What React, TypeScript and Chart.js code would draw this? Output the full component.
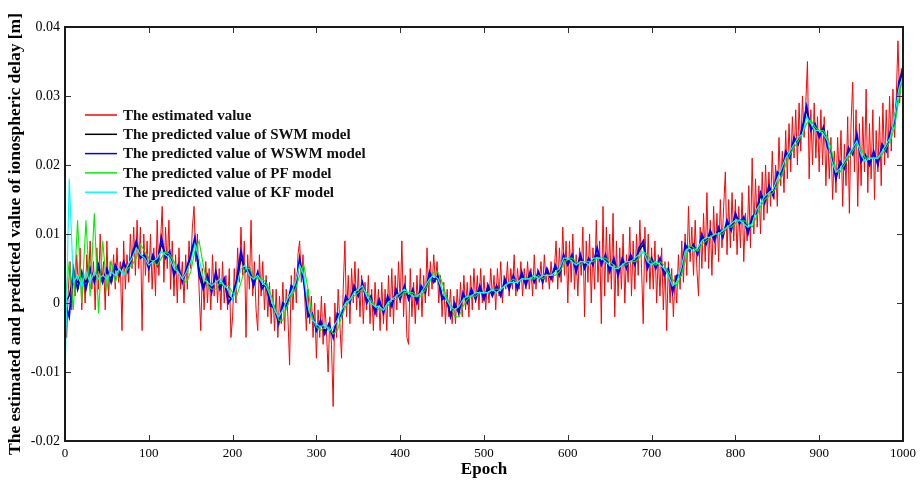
import React, { useEffect, useRef } from "react";
import { Chart, registerables } from "chart.js";

Chart.register(...registerables);

// Epochs (x positions): estimated value every 2nd epoch, model predictions every 5th epoch
const estimatedEpochs: number[] = Array.from({ length: 501 }, (_, i) => i * 2);
const modelEpochs: number[] = Array.from({ length: 201 }, (_, i) => i * 5);

// Values in millimetres (converted to metres for plotting)
const estimatedMm: number[] = [
  0, -5, 2, 6, -1, 4, 1, 7, 2, 8, -1, 5, 0, 7, 3, 9, 2, 6, -1, 8, 2, 10, 3, 6, -1,
  9, 1, 6, 3, 7, 2, 8, 3, 6, -4, 9, 2, 7, 3, 10, 5, 11, 4, 12, 5, 11, -4, 10, 4, 9,
  3, 10, 2, 8, 1, 12, 4, 9, 14, 3, 11, 5, 12, 2, 9, 1, 7, 0, 8, 2, 6, 0, 7, 2, 9,
  5, 11, 14, 6, 10, 2, -4, 5, -1, 6, 0, 5, -1, 7, 1, 6, 0, 5, -1, 6, 0, 4, -1, 5, -5,
  -2, 5, 0, 8, 3, 11, 4, 9, -5, 7, 2, 12, 1, 6, -1, -4, 7, 1, 6, -1, 4, -2, 3, -3, 2,
  -4, 2, -5, 1, -3, 3, -4, 2, -2, -9, 4, -1, 5, 0, 7, 9, 3, 7, 1, -4, 2, -3, 1, -5, 0,
  -8, -1, -5, 1, -6, 0, -4, -10, -2, -6, -15, 0, -5, 2, -3, -8, 2, 9, -2, 4, -3, 5, 0, 6, -1,
  5, -2, 4, -3, 3, -1, 4, -3, 2, -4, 3, -2, 2, -4, 3, -3, 2, -4, 4, -2, 5, -3, 4, -1, 6,
  0, 9, -2, 4, -5, -6, 5, -2, 3, -3, 4, -1, 5, -2, 4, 0, 8, 1, 6, 2, 7, 3, 6, 0, 4,
  -2, 3, -3, 2, -2, 2, -3, 1, -3, 2, -2, 3, -2, 4, -1, 3, -2, 4, -1, 5, 0, 4, -1, 5, 0,
  4, -1, 3, 0, 5, 1, 4, -1, 5, 1, 6, 0, 4, 2, 6, 1, 5, 2, 7, 1, 5, 2, 6, 1, 5,
  2, 6, 2, 5, 1, 7, 2, 5, 3, 6, 2, 7, 3, 5, 2, 6, 3, 5, 9, 2, 8, 3, 11, 4, 9,
  0, 9, 3, 10, 2, 7, 1, 8, 4, 11, -2, 9, 3, 10, 0, 8, 2, 12, 3, 9, -3, 14, 1, 11, 3,
  10, 2, 13, -2, 9, 1, 8, 2, 10, 0, 7, 3, 11, 1, 9, 2, 10, 4, 12, 5, -3, 11, 3, 10, 2,
  8, 2, 9, 0, 7, 1, 8, -1, 6, -4, 6, 0, 5, -2, 4, 0, 7, 2, 9, 3, 10, 4, 14, 6, 11,
  4, 12, 5, 1, 11, 5, 13, 6, 16, 5, 12, 4, 14, 7, 13, 6, 15, 8, 14, 19, 7, 15, 8, 16, 9,
  15, 7, 14, 8, 16, 6, 13, 9, 17, 8, 21, 10, 18, 11, 17, 10, 19, 12, 20, 13, 19, 14, 22, 15, 20,
  14, 24, 17, 22, 16, 25, 18, 26, 19, 27, 21, 28, 20, 29, 22, 30, 24, 29, 35, 18, 28, 20, 29, 21, 27,
  19, 28, 20, 27, 17, 25, 18, 24, 15, 22, 16, 24, 18, 25, 14, 23, 17, 27, 13, 26, 32, 19, 28, 14, 26,
  17, 27, 19, 31, 16, 26, 18, 28, 15, 25, 19, 27, 17, 29, 20, 28, 21, 30, 22, 31, 24, 30, 38, 29, 34,
  33,
];

const swmMm: number[] = [
  0, 1, 4, 3, 4, 3, 4.5, 3.5, 5, 3.5,
  4.5, 3.5, 5, 4.5, 5.5, 5, 6.5, 8.5, 7, 6.5,
  5.5, 6.5, 6, 8.5, 7, 7, 4.5, 5, 3.5, 4.5,
  6.5, 9, 5, 2.5, 3.5, 2, 4, 2.5, 3, 1,
  0.5, 3, 6.5, 5, 4.5, 3, 4, 2.5, 2.5, 0,
  -1, -2.5, -0.5, 0, 2, 2.5, 6, 3.5, -1.5, -2,
  -3.5, -3, -4, -3.5, -4.5, -2, -1.5, 0.5, 0.5, 2,
  1.5, 2.5, 0.5, 0.5, -1, 0, -1, 0.5, 0, 1.5,
  1, 2, 1, 1.5, 0.5, 2, 2, 4, 3.5, 3.5,
  1, 0.5, -1.5, -0.5, -1, 1, 0.5, 1.5, 1, 2,
  1, 2, 1.5, 2, 1.5, 3, 2.5, 3.5, 2.5, 4,
  3, 4, 3.5, 4, 3.5, 4.5, 3.5, 5, 4.5, 6.5,
  6, 6.5, 5, 6.5, 5.5, 6, 6, 7, 6, 6.5,
  5, 6, 4.5, 6, 5.5, 6.5, 6, 7.5, 8.5, 5.5,
  6, 5.5, 6, 4.5, 4.5, 2, 3.5, 4.5, 8, 8,
  8, 7.5, 9.5, 9, 10, 9.5, 10.5, 10, 11.5, 11,
  12.5, 12, 12, 10.5, 12, 13.5, 15.5, 15, 16.5, 16,
  18.5, 19, 21.5, 21.5, 23.5, 23.5, 25, 28, 25.5, 25.5,
  24.5, 25, 23, 21, 18.5, 20, 20, 22, 22, 24,
  21, 21, 20.5, 21.5, 20.5, 22.5, 22.5, 24.5, 26.5, 31.5,
  33.5,
];

const wswmMm: number[] = [
  0, -2, 5, 2, 4.5, 2, 5, 3, 5.5, 3,
  5, 3, 5.5, 4, 6, 4.5, 7, 9, 6.5, 7,
  5, 7, 5.5, 9.5, 6.5, 7.5, 4, 5.5, 3, 5,
  7, 9.5, 4, 2, 4, 1.5, 4.5, 2, 3.5, 0,
  1, 3.5, 7.5, 4.5, 5, 2.5, 4.5, 2, 3, -0.5,
  -0.5, -3, 0, -0.5, 2.5, 2, 6.5, 3, -2, -1.5,
  -4, -2.5, -4.5, -3, -5, -1.5, -2, 1, 0, 2.5,
  1, 3, 0, 1, -1.5, 0.5, -1.5, 1, -0.5, 2,
  0.5, 2.5, 0.5, 2, 0, 2.5, 1.5, 4.5, 3, 4,
  0.5, 1, -2, 0, -1.5, 1.5, 0, 2, 0.5, 2.5,
  0.5, 2.5, 1, 2.5, 1, 3.5, 2, 4, 2, 4.5,
  2.5, 4.5, 3, 4.5, 3, 5, 3.5, 5.5, 4, 7,
  5.5, 7, 4.5, 7, 5, 6.5, 5.5, 8, 5.5, 7,
  4.5, 6.5, 4, 6.5, 5, 7, 5.5, 8, 9, 5,
  6.5, 5, 6.5, 4, 5, 1.5, 4, 4, 8.5, 7.5,
  8.5, 7, 10, 8.5, 10.5, 9, 11, 9.5, 12, 10.5,
  13, 11.5, 12.5, 10, 12.5, 13, 16, 14.5, 17, 15.5,
  19, 18.5, 22, 21, 24, 23, 25.5, 28.5, 25, 26,
  24, 25.5, 22.5, 21.5, 18, 20.5, 19.5, 22.5, 21.5, 24.5,
  20.5, 21.5, 20, 22, 20, 23, 22, 25, 26, 32,
  34,
];

const pfMm: number[] = [
  0, 6, -1, 12, 0, 12, 1, 13, -1.5, 9,
  2, 6, 3, 5, 4, 5, 5.5, 6.5, 8.5, 7.5,
  6.5, 6, 5.5, 6.5, 7.5, 7, 6, 4.5, 3.5, 3,
  4.5, 7.5, 9, 5.5, 2.5, 2, 2, 3, 2.5, 2.5,
  1.5, 1, 3, 5, 5, 4, 3.5, 3.5, 3, 1.5,
  -0.5, -2.5, -2.5, -0.5, 1, 2, 4, 5.5, 2, -2,
  -3.5, -4, -3.5, -3.5, -4.5, -4, -2, -0.5, 0.5, 1,
  1.5, 2, 1.5, 0.5, -0.5, -1, -1, -0.5, 0.5, 0.5,
  1, 1.5, 1.5, 1.5, 1, 1, 2, 3, 4.5, 4.5,
  3, 1, -0.5, -2, -2, -0.5, 0.5, 1, 1, 1.5,
  1.5, 1.5, 2, 2, 2, 2.5, 3, 3.5, 3, 3.5,
  3.5, 3.5, 3.5, 4, 3.5, 4, 4, 4, 4.5, 5.5,
  6.5, 6.5, 6, 5.5, 6, 6, 6, 6.5, 6.5, 6.5,
  6, 5.5, 5, 5.5, 5.5, 6, 6, 6.5, 7.5, 7,
  6, 5.5, 6, 5.5, 4.5, 3.5, 2.5, 4, 6, 8.5,
  8, 7.5, 8.5, 9, 9.5, 10, 10, 10, 11, 11,
  11.5, 12, 12, 11.5, 11, 12.5, 14, 15, 15.5, 16,
  17, 18.5, 20, 21.5, 22.5, 23.5, 24.5, 26, 26.5, 25.5,
  25, 25, 24, 22, 19, 19, 20, 21, 22, 23,
  22.5, 21, 21, 21, 21, 21.5, 22.5, 23.5, 25.5, 29.5,
  33,
];

const kfMm: number[] = [
  -11, 18, 3, 4, 2.5, 4.5, 3, 4.5, 3.5, 4,
  3.5, 4.5, 4, 5, 4, 5.5, 6.5, 8, 7, 6.5,
  5.5, 6, 6.5, 7.5, 7, 6.5, 5, 4.5, 3.5, 4.5,
  6, 8.5, 6.5, 3.5, 3, 2.5, 3, 3.5, 2.5, 2,
  0.5, 2.5, 5, 5.5, 4, 3.5, 4, 3, 2.5, 1,
  -1, -2, -1, 0.5, 1.5, 3, 5.5, 4, -0.5, -2.5,
  -3, -3.5, -3, -4, -3.5, -2.5, -1, 0, 0.5, 1.5,
  2, 2.5, 1, 0, -0.5, -0.5, -1, 0, 0.5, 1,
  1.5, 2, 1.5, 1, 1, 1.5, 2.5, 3.5, 4, 3.5,
  2, 0.5, -0.5, -1, -0.5, 0.5, 1, 1, 1.5, 1.5,
  1.5, 1.5, 2, 1.5, 2, 2.5, 3, 3, 3, 3.5,
  3.5, 3.5, 4, 3.5, 4, 4, 4, 4.5, 5, 6.5,
  6.5, 6, 5.5, 6, 6, 5.5, 6.5, 6.5, 6.5, 6,
  5.5, 5, 5, 5.5, 6, 6, 6.5, 7, 7.5, 6,
  5.5, 6, 5.5, 5, 4, 2.5, 3, 5, 7.5, 8,
  7.5, 8, 9, 9.5, 9.5, 10, 10, 10.5, 11, 11.5,
  12, 12, 11.5, 11, 11.5, 13.5, 14.5, 15.5, 16, 16.5,
  18, 19.5, 21, 22, 23, 24, 24.5, 27, 26, 25,
  25, 24.5, 23.5, 20.5, 19, 19.5, 20.5, 21.5, 22.5, 23.5,
  21.5, 20.5, 21, 21, 21, 22, 23, 24, 27, 31,
  33,
];

const seriesLabels: string[] = [
  "The estimated value",
  "The predicted value of SWM model",
  "The predicted value of WSWM model",
  "The predicted value of PF model",
  "The predicted value of KF model",
];
const seriesColors: string[] = ["#ff0000", "#000000", "#0000ff", "#00ee00", "#00ffff"];

const yTicks: number[] = [-0.02, -0.01, 0, 0.01, 0.02, 0.03, 0.04];
const xTicks: number[] = [0, 100, 200, 300, 400, 500, 600, 700, 800, 900, 1000];

const toPoints = (xs: number[], mm: number[]) => mm.map((v, i) => ({ x: xs[i], y: v / 1000 }));

const SERIF = '"Liberation Serif", "Times New Roman", serif';

const framePlugin = {
  id: "frameAndLegend",
  afterDatasetsDraw(chart: any) {
    const { ctx, chartArea: a, scales } = chart;
    const x = scales.x;
    const y = scales.y;
    ctx.save();
    ctx.strokeStyle = "#333";
    ctx.lineWidth = 1;
    ctx.beginPath();
    xTicks.forEach((t) => {
      const px = Math.round(x.getPixelForValue(t)) + 0.5;
      ctx.moveTo(px, a.bottom);
      ctx.lineTo(px, a.bottom - 6);
      ctx.moveTo(px, a.top);
      ctx.lineTo(px, a.top + 6);
    });
    yTicks.forEach((t) => {
      const py = Math.round(y.getPixelForValue(t)) + 0.5;
      ctx.moveTo(a.left, py);
      ctx.lineTo(a.left + 6, py);
      ctx.moveTo(a.right, py);
      ctx.lineTo(a.right - 6, py);
    });
    ctx.stroke();
    ctx.strokeStyle = "#1a1a1a";
    ctx.lineWidth = 2;
    ctx.strokeRect(a.left, a.top, a.right - a.left, a.bottom - a.top);

    // legend inside plot area
    const lx0 = a.left + 20;
    const lx1 = a.left + 52;
    const tx = a.left + 58;
    const ty0 = a.top + 88;
    const dy = 19.3;
    ctx.font = `bold 15px ${SERIF}`;
    ctx.textBaseline = "middle";
    ctx.textAlign = "left";
    seriesLabels.forEach((lab, i) => {
      const yy = ty0 + i * dy;
      ctx.strokeStyle = seriesColors[i];
      ctx.lineWidth = 1.5;
      ctx.beginPath();
      ctx.moveTo(lx0, yy);
      ctx.lineTo(lx1, yy);
      ctx.stroke();
      ctx.fillStyle = "#111";
      ctx.fillText(lab, tx, yy + 1);
    });
    ctx.restore();
  },
};

export default function App() {
  const ref = useRef<HTMLCanvasElement | null>(null);
  useEffect(() => {
    if (!ref.current) return;
    const series = [
      toPoints(estimatedEpochs, estimatedMm),
      toPoints(modelEpochs, swmMm),
      toPoints(modelEpochs, wswmMm),
      toPoints(modelEpochs, pfMm),
      toPoints(modelEpochs, kfMm),
    ];
    const widths = [1, 1.3, 1.8, 1.1, 1.2];
    const chart = new Chart(ref.current, {
      type: "line",
      data: {
        datasets: series.map((s, i) => ({
          label: seriesLabels[i],
          data: s,
          borderColor: seriesColors[i],
          backgroundColor: seriesColors[i],
          borderWidth: widths[i],
          pointRadius: 0,
          tension: 0,
          fill: false,
          order: 5 - i,
        })),
      },
      options: {
        responsive: false,
        animation: false,
        events: [],
        layout: { padding: { top: 27, right: 15, left: 0, bottom: 0 } },
        plugins: { legend: { display: false }, tooltip: { enabled: false } },
        scales: {
          x: {
            type: "linear",
            min: 0,
            max: 1000,
            afterBuildTicks: (s: any) => {
              s.ticks = xTicks.map((v) => ({ value: v }));
            },
            afterFit: (s: any) => {
              s.height = 43;
            },
            grid: { display: false, drawTicks: false },
            border: { display: false },
            ticks: {
              color: "#000",
              font: { family: SERIF, size: 13 },
              padding: 5,
              maxRotation: 0,
              autoSkip: false,
              callback: (v: any) => String(v),
            },
            title: {
              display: true,
              text: "Epoch",
              color: "#000",
              font: { family: SERIF, size: 17, weight: "bold" },
              padding: { top: 0, bottom: 4 },
            },
          },
          y: {
            type: "linear",
            min: -0.02,
            max: 0.04,
            afterBuildTicks: (s: any) => {
              s.ticks = yTicks.map((v) => ({ value: v }));
            },
            afterFit: (s: any) => {
              s.width = 65;
            },
            grid: { display: false, drawTicks: false },
            border: { display: false },
            ticks: {
              color: "#000",
              font: { family: SERIF, size: 14 },
              padding: 5,
              autoSkip: false,
              callback: (v: any) => String(Math.round(v * 100) / 100),
            },
            title: {
              display: true,
              text: "The estimated and predicted value of ionospheric delay [m]",
              color: "#000",
              font: { family: SERIF, size: 17.5, weight: "bold" },
              padding: { top: 5, bottom: 0 },
            },
          },
        },
      },
      plugins: [framePlugin],
    });
    return () => chart.destroy();
  }, []);
  return (
    <div style={{ position: "absolute", left: 0, top: 0, width: 921, height: 484, background: "#fff" }}>
      <canvas ref={ref} width={921} height={484} style={{ display: "block" }} />
    </div>
  );
}
